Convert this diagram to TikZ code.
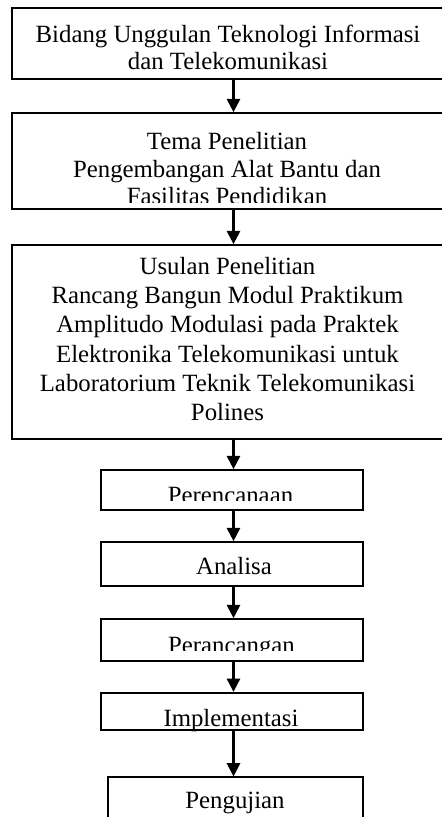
\documentclass[tikz,border=0pt]{standalone}
\usepackage{fontspec}
\setmainfont{Liberation Serif}
\usetikzlibrary{arrows.meta,fit}
\tikzset{
  box/.style={draw, line width=1.3pt, rectangle, inner sep=0pt},
  lbl/.style={inner sep=0pt, align=center, font=\fontsize{18.6}{20.5}\selectfont},
  lblw/.style={inner sep=0pt, align=center, font=\fontsize{18.6}{21.9}\selectfont},
  lbls/.style={inner sep=0pt, font=\fontsize{18.6}{20.5}\selectfont},
  arr/.style={line width=1.6pt, -{Triangle[width=10pt,length=10pt]}},
}
\begin{document}
\begin{tikzpicture}[x=0.75pt,y=-0.75pt]
\useasboundingbox (0,0) rectangle (442,817);
\clip (0,0) rectangle (442,817);
% boxes
\node[box, fit={(12,8) (446,79)}] (b1) {};
\node[box, fit={(12,113) (446,209)}] (b2) {};
\node[box, fit={(12,245) (446,439)}] (b3) {};
\node[box, fit={(100.7,470) (363,510)}] (b4) {};
\node[box, fit={(100.7,542) (363,586)}] (b5) {};
\node[box, fit={(100.7,619) (363,661)}] (b6) {};
\node[box, fit={(100.7,692.7) (363,730)}] (b7) {};
\node[box, fit={(108.3,777.3) (363.3,840)}] (b8) {};
% texts
\node[lbl, anchor=north] (t1) at (228,24.8) {Bidang Unggulan Teknologi Informasi\\dan Telekomunikasi};
\begin{scope}
\clip (12,113) rectangle (446,202);
\node[lbl, anchor=north] (t2) at (227,132.4) {Tema Penelitian\\Pengembangan Alat Bantu dan\\Fasilitas Pendidikan};
\end{scope}
\node[lblw, anchor=north] (t3) at (227.5,257.1) {Usulan Penelitian\\Rancang Bangun Modul Praktikum\\Amplitudo Modulasi pada Praktek\\Elektronika Telekomunikasi untuk\\Laboratorium Teknik Telekomunikasi\\Polines};
\begin{scope}
\clip (100,470) rectangle (364,500);
\node[lbls, anchor=base] (t4) at (230.5,503) {Perencanaan};
\end{scope}
\node[lbls, anchor=base] (t5) at (234,574.5) {Analisa};
\begin{scope}
\clip (100,619) rectangle (364,650.5);
\node[lbls, anchor=base] (t6) at (231.5,653) {Perancangan};
\end{scope}
\node[lbls, anchor=base] (t7) at (231,726) {Implementasi};
\node[lbls, anchor=base] (t8) at (235,808.3) {Pengujian};
% arrows
\coordinate (ax) at (233.5,0);
\draw[arr] (b1.south -| ax) -- (b2.north -| ax);
\draw[arr] (b2.south -| ax) -- (b3.north -| ax);
\draw[arr] (b3.south -| ax) -- (b4.north -| ax);
\draw[arr] (b4.south -| ax) -- (b5.north -| ax);
\draw[arr] (b5.south -| ax) -- (b6.north -| ax);
\draw[arr] (b6.south -| ax) -- (b7.north -| ax);
\draw[arr] (b7.south -| ax) -- (b8.north -| ax);
\end{tikzpicture}
\end{document}
